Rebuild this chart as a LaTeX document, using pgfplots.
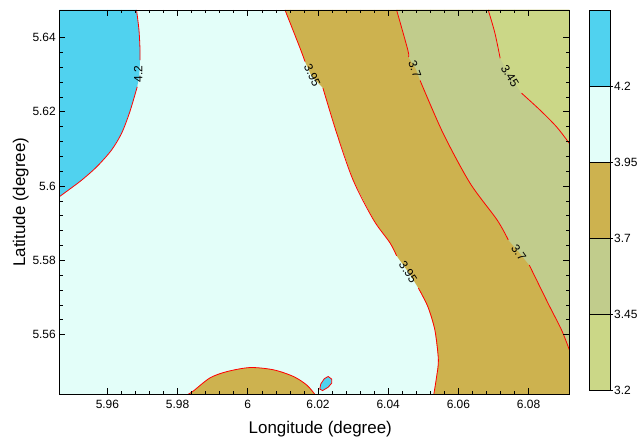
\documentclass[border=0pt]{standalone}
\usepackage{pgfplots}
\pgfplotsset{compat=1.18}
\usepackage{fontspec}
\setmainfont{Liberation Sans}
\definecolor{cblue}{RGB}{80,210,239}
\definecolor{ccyan}{RGB}{227,254,249}
\definecolor{ctan}{RGB}{205,178,79}
\definecolor{colive}{RGB}{193,204,140}
\definecolor{cyel}{RGB}{203,215,135}
\newcommand{\tfont}{\fontsize{12}{14}\selectfont}
\begin{document}
\begin{tikzpicture}
\path[use as bounding box] (0,0) rectangle (638bp,437bp);
\begin{axis}[
  at={(59.3bp,42.7bp)}, anchor=south west, scale only axis,
  width=510bp, height=384.3bp,
  xmin=5.9463, xmax=6.0916, ymin=5.5439, ymax=5.6474,
  xtick={5.96,5.98,6,6.02,6.04,6.06,6.08},
  xticklabels={5.96,5.98,6,6.02,6.04,6.06,6.08},
  ytick={5.56,5.58,5.6,5.62,5.64},
  yticklabels={5.56,5.58,5.6,5.62,5.64},
  minor x tick num=4, minor y tick num=4,
  tick align=inside, major tick length=6bp, minor tick length=3.5bp,
  tick style={black, line width=0.6bp},
  axis line style={black, line width=0.8bp},
  axis on top,
  axis background/.style={fill=ccyan},
  ticklabel style={font=\tfont},
  xticklabel style={yshift=-2bp},
  xlabel={Longitude (degree)}, ylabel={Latitude (degree)},
  label style={font=\fontsize{17}{20}\selectfont},
  xlabel style={yshift=-6bp, xshift=6bp},
  ylabel style={yshift=-3bp},
]
% 4.2 region
\addplot[fill=cblue, draw=none] coordinates {(5.9463,5.6474)(5.9683,5.6474)(5.9690,5.6420)(5.9693,5.6366)(5.9693,5.6339)(5.9691,5.6299)(5.9685,5.6267)(5.9664,5.6200)(5.9641,5.6143)(5.9612,5.6097)(5.9570,5.6052)(5.9527,5.6016)(5.9489,5.5989)(5.9463,5.5971)};
% 3.7-3.95 band
\addplot[fill=ctan, draw=none] coordinates {(6.0916,5.6474)(6.0106,5.6474)(6.0149,5.6371)(6.0163,5.6335)(6.0181,5.6297)(6.0214,5.6264)(6.0253,5.6143)(6.0300,5.6016)(6.0358,5.5909)(6.0405,5.5847)(6.0424,5.5812)(6.0459,5.5766)(6.0486,5.5725)(6.0513,5.5675)(6.0533,5.5612)(6.0543,5.5532)(6.0538,5.5487)(6.0530,5.5439)(6.0916,5.5439)};
% 3.45-3.7 band
\addplot[fill=colive, draw=none] coordinates {(6.0916,5.6474)(6.0424,5.6474)(6.0456,5.6366)(6.0458,5.6347)(6.0479,5.6315)(6.0491,5.6284)(6.0556,5.6143)(6.0633,5.6008)(6.0710,5.5909)(6.0742,5.5855)(6.0773,5.5821)(6.0802,5.5787)(6.0855,5.5685)(6.0894,5.5612)(6.0916,5.5559)};
% 3.2-3.45 region
\addplot[fill=cyel, draw=none] coordinates {(6.0916,5.6474)(6.0685,5.6474)(6.0704,5.6412)(6.0719,5.6344)(6.0747,5.6297)(6.0780,5.6250)(6.0832,5.6205)(6.0880,5.6159)(6.0916,5.6115)};
% bottom bump
\addplot[fill=ctan, draw=red, line width=0.8bp, smooth] coordinates {(5.9830,5.5439)(5.9845,5.5448)(5.9892,5.5483)(5.9940,5.5500)(6.0006,5.5511)(6.0073,5.5505)(6.0130,5.5487)(6.0168,5.5464)(6.0191,5.5439)};
% small blue spot
\addplot[fill=cblue, draw=red, line width=0.8bp] coordinates {(6.0229,5.5487)(6.0239,5.5480)(6.0239,5.5469)(6.0229,5.5458)(6.0213,5.5449)(6.0205,5.5453)(6.0208,5.5467)(6.0218,5.5481)(6.0229,5.5487)};
% contour lines
\pgfplotsset{cline/.style={red, line width=0.8bp, smooth, no marks}}
\addplot[cline] coordinates {(5.9683,5.6474)(5.9690,5.6420)(5.9693,5.6366)(5.9693,5.6339)};
\addplot[cline] coordinates {(5.9685,5.6267)(5.9664,5.6200)(5.9641,5.6143)(5.9612,5.6097)(5.9570,5.6052)(5.9527,5.6016)(5.9489,5.5989)(5.9463,5.5971)};
\addplot[cline] coordinates {(6.0106,5.6474)(6.0149,5.6371)(6.0163,5.6335)};
\addplot[cline] coordinates {(6.0214,5.6264)(6.0253,5.6143)(6.0300,5.6016)(6.0358,5.5909)(6.0405,5.5847)(6.0424,5.5812)};
\addplot[cline] coordinates {(6.0486,5.5725)(6.0513,5.5675)(6.0533,5.5612)(6.0543,5.5532)(6.0538,5.5487)(6.0530,5.5439)};
\addplot[cline] coordinates {(6.0424,5.6474)(6.0456,5.6366)(6.0458,5.6347)};
\addplot[cline] coordinates {(6.0491,5.6284)(6.0556,5.6143)(6.0633,5.6008)(6.0710,5.5909)(6.0742,5.5855)};
\addplot[cline] coordinates {(6.0802,5.5787)(6.0855,5.5685)(6.0894,5.5612)(6.0916,5.5559)};
\addplot[cline] coordinates {(6.0685,5.6474)(6.0704,5.6412)(6.0719,5.6344)};
\addplot[cline] coordinates {(6.0780,5.6250)(6.0832,5.6205)(6.0880,5.6159)(6.0916,5.6115)};
% labels
\node[font=\tfont, inner sep=0pt, rotate=90] at (axis cs:5.9688,5.6301) {4.2};
\node[font=\tfont, inner sep=0pt, rotate=-65] at (axis cs:6.0184,5.6297) {3.95};
\node[font=\tfont, inner sep=0pt, rotate=-70] at (axis cs:6.0476,5.6315) {3.7};
\node[font=\tfont, inner sep=0pt, rotate=-58] at (axis cs:6.0747,5.6297) {3.45};
\node[font=\tfont, inner sep=0pt, rotate=-57] at (axis cs:6.0457,5.5768) {3.95};
\node[font=\tfont, inner sep=0pt, rotate=-54] at (axis cs:6.0772,5.5821) {3.7};
\end{axis}
\begin{axis}[
  at={(589.3bp,47bp)}, anchor=south west, scale only axis,
  width=21.4bp, height=379.3bp,
  xmin=0, xmax=1, ymin=3.2, ymax=4.45,
  xtick=\empty,
  ytick={3.2,3.45,3.7,3.95,4.2},
  yticklabels={3.2,3.45,3.7,3.95,4.2},
  yticklabel pos=right, ytick pos=right,
  tick align=outside, major tick length=2.5bp,
  tick style={black, line width=0.8bp},
  axis line style={black, line width=0.8bp},
  axis on top,
  ticklabel style={font=\tfont},
  yticklabel style={xshift=-2.5bp},
]
\addplot[fill=cyel, draw=none] coordinates {(0,3.2)(1,3.2)(1,3.45)(0,3.45)};
\addplot[fill=colive, draw=none] coordinates {(0,3.45)(1,3.45)(1,3.7)(0,3.7)};
\addplot[fill=ctan, draw=none] coordinates {(0,3.7)(1,3.7)(1,3.95)(0,3.95)};
\addplot[fill=ccyan, draw=none] coordinates {(0,3.95)(1,3.95)(1,4.2)(0,4.2)};
\addplot[fill=cblue, draw=none] coordinates {(0,4.2)(1,4.2)(1,4.45)(0,4.45)};
\addplot[black, line width=0.8bp] coordinates {(0,3.45)(1,3.45)};
\addplot[black, line width=0.8bp] coordinates {(0,3.7)(1,3.7)};
\addplot[black, line width=0.8bp] coordinates {(0,3.95)(1,3.95)};
\addplot[black, line width=0.8bp] coordinates {(0,4.2)(1,4.2)};
\end{axis}
\end{tikzpicture}
\end{document}
